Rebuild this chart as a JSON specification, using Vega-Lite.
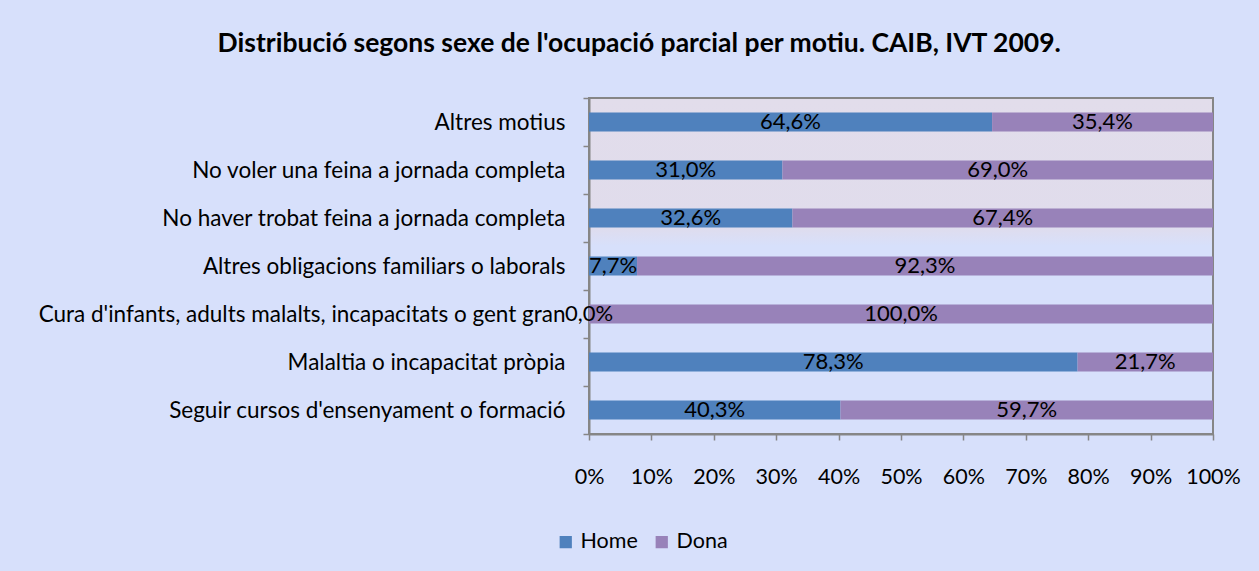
{
  "$schema": "https://vega.github.io/schema/vega-lite/v6.json",
  "width": 624,
  "height": 336,
  "autosize": {"type": "none"},
  "padding": {"left": 589, "top": 98, "right": 46, "bottom": 137},
  "background": "#D7E0FB",
  "title": {
    "text": "Distribució segons sexe de l'ocupació parcial per motiu. CAIB, IVT 2009.",
    "font": "Lato",
    "fontSize": 26.5,
    "fontWeight": "bold",
    "color": "#000000",
    "anchor": "middle",
    "frame": "bounds",
    "offset": 30
  },
  "config": {
    "locale": {"number": {"decimal": ",", "thousands": ".", "grouping": [3], "currency": ["", " €"]}},
    "view": {
      "stroke": "#868686",
      "strokeWidth": 2,
      "fill": {
        "gradient": "linear",
        "x1": 0, "y1": 0, "x2": 0, "y2": 1,
        "stops": [
          {"offset": 0, "color": "#E2DDEB"},
          {"offset": 0.38, "color": "#E0DCEC"},
          {"offset": 0.44, "color": "#D7E0FB"},
          {"offset": 1, "color": "#D7E0FB"}
        ]
      }
    },
    "axis": {
      "labelFont": "Lato",
      "labelColor": "#000000",
      "domainColor": "#868686",
      "domainWidth": 2,
      "tickColor": "#868686",
      "tickWidth": 1.5,
      "grid": false,
      "title": null
    },
    "legend": {"labelFont": "Lato", "labelFontSize": 21.5, "labelColor": "#000000"}
  },
  "data": {
    "values": [
      {"motiu": "Altres motius", "sexe": "Home", "pct": 0.646},
      {"motiu": "Altres motius", "sexe": "Dona", "pct": 0.354},
      {"motiu": "No voler una feina a jornada completa", "sexe": "Home", "pct": 0.310},
      {"motiu": "No voler una feina a jornada completa", "sexe": "Dona", "pct": 0.690},
      {"motiu": "No haver trobat feina a jornada completa", "sexe": "Home", "pct": 0.326},
      {"motiu": "No haver trobat feina a jornada completa", "sexe": "Dona", "pct": 0.674},
      {"motiu": "Altres obligacions familiars o laborals", "sexe": "Home", "pct": 0.077},
      {"motiu": "Altres obligacions familiars o laborals", "sexe": "Dona", "pct": 0.923},
      {"motiu": "Cura d'infants, adults malalts, incapacitats o gent gran", "sexe": "Home", "pct": 0.0},
      {"motiu": "Cura d'infants, adults malalts, incapacitats o gent gran", "sexe": "Dona", "pct": 1.0},
      {"motiu": "Malaltia o incapacitat pròpia ", "sexe": "Home", "pct": 0.783},
      {"motiu": "Malaltia o incapacitat pròpia ", "sexe": "Dona", "pct": 0.217},
      {"motiu": "Seguir cursos d'ensenyament o formació", "sexe": "Home", "pct": 0.403},
      {"motiu": "Seguir cursos d'ensenyament o formació", "sexe": "Dona", "pct": 0.597}
    ]
  },
  "encoding": {
    "y": {
      "field": "motiu",
      "type": "nominal",
      "sort": null,
      "scale": {"paddingInner": 0, "paddingOuter": 0},
      "axis": {"tickBand": "extent", "tickSize": 6, "labelPadding": 18, "labelLimit": 0, "labelFontSize": 22.5}
    }
  },
  "layer": [
    {
      "mark": {"type": "bar", "height": {"band": 0.4}},
      "encoding": {
        "x": {
          "field": "pct",
          "type": "quantitative",
          "stack": "zero",
          "scale": {"domain": [0, 1], "nice": false},
          "axis": {"values": [0, 0.1, 0.2, 0.3, 0.4, 0.5, 0.6, 0.7, 0.8, 0.9, 1], "format": ".0%", "tickSize": 6, "labelPadding": 26, "labelFlush": false, "labelOverlap": false, "labelFontSize": 21.5}
        },
        "order": {"field": "sexe", "type": "nominal", "sort": "descending"},
        "color": {
          "field": "sexe",
          "type": "nominal",
          "sort": ["Home", "Dona"],
          "scale": {"domain": ["Home", "Dona"], "range": ["#4F81BD", "#9882B9"]},
          "legend": {
            "title": null,
            "orient": "none",
            "direction": "horizontal",
            "legendX": -34,
            "legendY": 433,
            "symbolType": "square",
            "symbolSize": 150,
            "symbolStrokeWidth": 0,
            "columnPadding": 13
          }
        }
      }
    },
    {
      "transform": [
        {"stack": "pct", "groupby": ["motiu"], "sort": [{"field": "sexe", "order": "descending"}], "as": ["x0", "x1"]},
        {"calculate": "(datum.x0 + datum.x1) / 2", "as": "mid"}
      ],
      "mark": {"type": "text", "font": "Lato", "fontSize": 22, "color": "#000000"},
      "encoding": {
        "x": {
          "field": "mid",
          "type": "quantitative",
          "axis": {"values": [0, 0.1, 0.2, 0.3, 0.4, 0.5, 0.6, 0.7, 0.8, 0.9, 1], "format": ".0%", "tickSize": 6, "labelPadding": 26, "labelFlush": false, "labelOverlap": false, "labelFontSize": 21.5}
        },
        "text": {"field": "pct", "type": "quantitative", "format": ".1%"}
      }
    }
  ]
}
